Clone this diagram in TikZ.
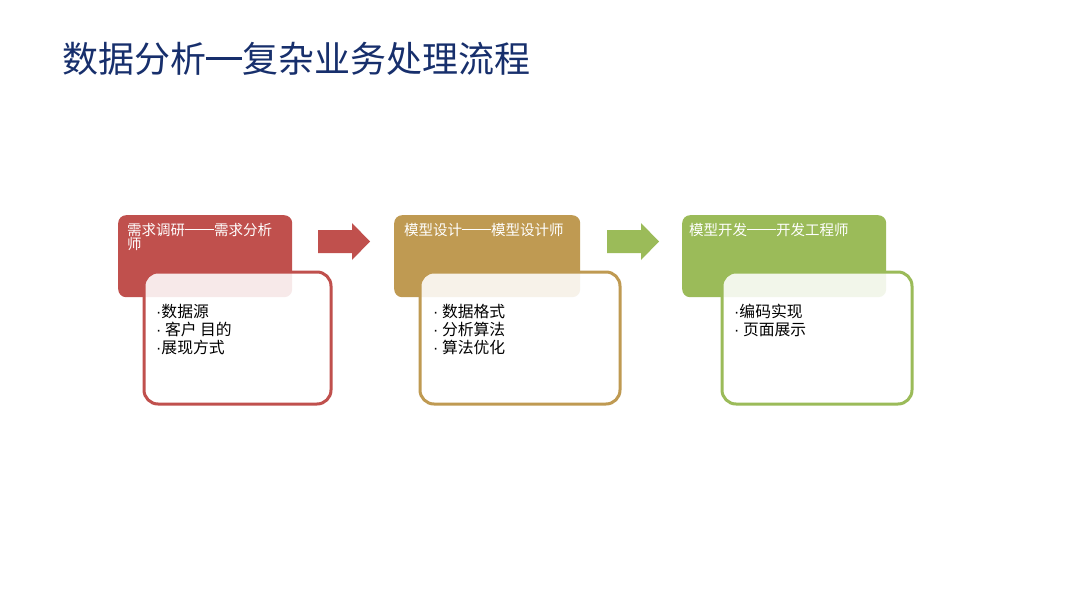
\documentclass[tikz,border=0pt]{standalone}
\usepackage{fontspec}
\setmainfont{Noto Sans CJK SC}
\newfontfamily\latinfont{Liberation Sans}
\newcommand\dt{{\latinfont ·}}
\newcommand\cjkdash[1]{\raisebox{0.36em}{\rule{#1}{0.065em}}}
\definecolor{cred}{HTML}{C0504D}
\definecolor{cgold}{HTML}{BF9A52}
\definecolor{cgreen}{HTML}{9BBB59}
\definecolor{ctitle}{HTML}{172F6C}
\begin{document}
\begin{tikzpicture}[x=1pt,y=-1pt,
  header/.style={fill=#1, rounded corners=8pt, minimum width=174pt, minimum height=82pt, anchor=north west, inner sep=0pt},
  headtext/.style={anchor=north west, inner sep=0pt, text=white, align=left, font=\fontsize{14.5}{14.5}\selectfont},
  card/.style={draw=#1, line width=3pt, fill=white, fill opacity=0.88, rounded corners=14pt, minimum height=132pt, anchor=north west, inner sep=0pt},
  bodytext/.style={anchor=north west, inner sep=0pt, text=black, align=left, font=\fontsize{15.8}{18}\selectfont},
  flowarrow/.style={fill=#1}
]
\useasboundingbox[fill=white] (0,0) rectangle (1080,608);
\node[anchor=west, inner sep=0pt, text=ctitle, font=\fontsize{36}{40}\selectfont] (title) at (62,59) {数据分析{\cjkdash{1em}}复杂业务处理流程};

% stage 1
\node[header=cred, minimum width=174pt] (h1) at (118,215) {};
\node[headtext] (h1t) at (127,223) {需求调研{\cjkdash{2em}}需求分析\\师};
\node[card=cred, minimum width=187pt] (b1) at (142.5,270.5) {};
\node[bodytext] (b1t) at (156,304) {\dt{}数据源\\\dt{}\ 客户 目的\\\dt{}展现方式};

% arrow 1
\fill[flowarrow=cred] (318,230) -- (352,230) -- (352,223) -- (370,241.5) -- (352,260) -- (352,253) -- (318,253) -- cycle;

% stage 2
\node[header=cgold, minimum width=186pt] (h2) at (394,215) {};
\node[headtext] (h2t) at (404,223) {模型设计{\cjkdash{2em}}模型设计师};
\node[card=cgold, minimum width=200pt] (b2) at (418.5,270.5) {};
\node[bodytext] (b2t) at (433,304) {\dt{}\ 数据格式\\\dt{}\ 分析算法\\\dt{}\ 算法优化};

% arrow 2
\fill[flowarrow=cgreen] (607,230) -- (641,230) -- (641,223) -- (659,241.5) -- (641,260) -- (641,253) -- (607,253) -- cycle;

% stage 3
\node[header=cgreen, minimum width=204pt] (h3) at (682,215) {};
\node[headtext] (h3t) at (689,223) {模型开发{\cjkdash{2em}}开发工程师};
\node[card=cgreen, minimum width=190pt] (b3) at (720.5,270.5) {};
\node[bodytext] (b3t) at (734,304) {\dt{}编码实现\\\dt{}\ 页面展示};
\end{tikzpicture}
\end{document}
